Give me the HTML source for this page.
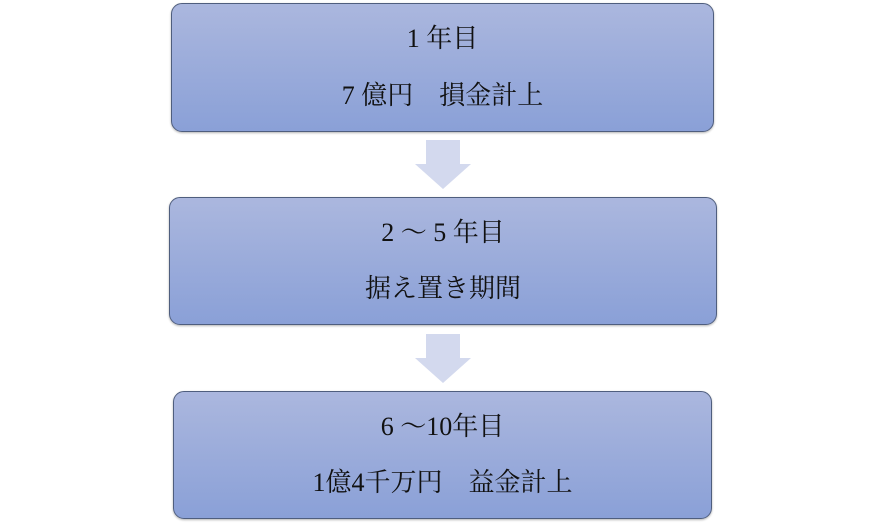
<!DOCTYPE html>
<html><head><meta charset="utf-8"><style>
body{margin:0;width:886px;height:527px;background:#fff;position:relative;overflow:hidden;font-family:"Liberation Serif","Noto Serif CJK SC",serif;}
.b{position:absolute;border:1px solid #4f5e7e;border-radius:11px;background:linear-gradient(#abb7de,#8aa0d7);box-shadow:0 1px 2px rgba(0,0,0,.3);box-sizing:border-box;text-align:center;color:#111;font-size:26px;line-height:30px;}
.b div{position:absolute;left:0;right:0;}
svg{position:absolute;}
</style></head><body>
<div class="b" style="left:171px;top:3px;width:543px;height:129px"><div style="top:20px">1 年目</div><div style="top:77px">7 億円　損金計上</div></div>
<svg style="left:414px;top:140px" width="58" height="50"><polygon points="12,0 46,0 46,24 57,24 29,49 1,24 12,24" fill="#d3d9ee"/></svg>
<div class="b" style="left:169px;top:197px;width:548px;height:128px"><div style="top:20px">2 ～ 5 年目</div><div style="top:76px">据え置き期間</div></div>
<svg style="left:414px;top:334px" width="58" height="50"><polygon points="12,0 46,0 46,24 57,24 29,49 1,24 12,24" fill="#d3d9ee"/></svg>
<div class="b" style="left:173px;top:391px;width:539px;height:128px"><div style="top:20px">6 ～10年目</div><div style="top:76px">1億4千万円　益金計上</div></div>
</body></html>
